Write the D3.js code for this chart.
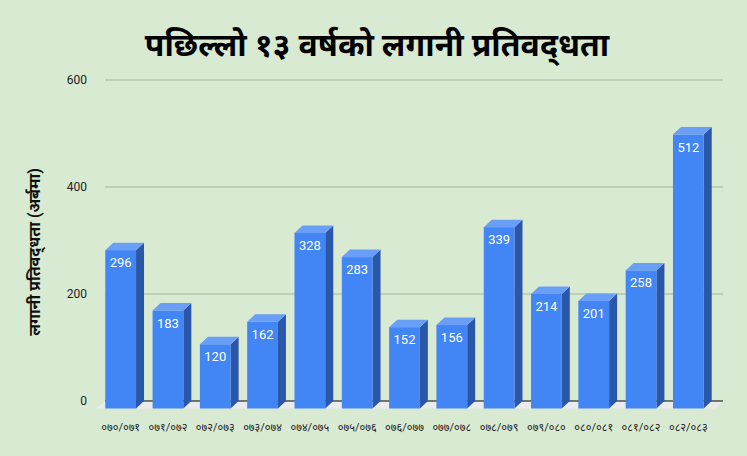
<!DOCTYPE html>
<html>
<head>
<meta charset="utf-8">
<script src="https://cdn.jsdelivr.net/npm/d3@7"></script>
<style>
  body { margin: 0; background: #d9ead3; }
  svg { display: block; }
  text { font-family: Roboto, "Noto Sans", "Noto Sans Devanagari", sans-serif; }
</style>
</head>
<body>
<div id="chart"></div>
<script>
var years = ['०७०/०७१', '०७१/०७२', '०७२/०७३', '०७३/०७४', '०७४/०७५', '०७५/०७६', '०७६/०७७',
             '०७७/०७८', '०७८/०७९', '०७९/०८०', '०८०/०८१', '०८१/०८२', '०८२/०८३'];
var values = [296, 183, 120, 162, 328, 283, 152, 156, 339, 214, 201, 258, 512];
var yTicks = [0, 200, 400, 600];

var W = 747, H = 456,
    dx = 8, dy = 7.5,   // depth offset of the 3d effect
    col = { front: '#4285f4', side: '#2b57a8', top: '#6a9ff7' };

var svg = d3.select('#chart').append('svg')
    .attr('width', W)
    .attr('height', H);

svg.append('rect')
    .attr('width', W).attr('height', H)
    .attr('fill', '#d9ead3');

// scales live on the back plane
var x = d3.scaleBand()
    .domain(years)
    .range([105, 720])
    .paddingInner(0.35)
    .paddingOuter(0.175);

var y = d3.scaleLinear()
    .domain([0, 600])
    .range([401, 80]);

// floor
svg.append('polygon')
    .attr('points', [[105, y(0)], [723, y(0)], [723 - dx, y(0) + dy], [105 - dx, y(0) + dy]].join(' '))
    .attr('fill', '#ebebeb');

// gridlines
svg.selectAll('line.grid')
    .data(yTicks.filter(function(d){ return d > 0; }))
  .enter().append('line')
    .attr('class', 'grid')
    .attr('x1', 105).attr('x2', 723)
    .attr('y1', function(d){ return y(d); })
    .attr('y2', function(d){ return y(d); })
    .attr('stroke', '#a3b39f')
    .attr('stroke-width', 1);

svg.append('line')
    .attr('x1', 105).attr('x2', 723)
    .attr('y1', y(0)).attr('y2', y(0))
    .attr('stroke', '#000')
    .attr('stroke-width', 1.2);

// y tick labels
svg.selectAll('text.ytick')
    .data(yTicks)
  .enter().append('text')
    .attr('class', 'ytick')
    .attr('x', 87)
    .attr('y', function(d){ return y(d); })
    .attr('dy', '0.35em')
    .attr('text-anchor', 'end')
    .attr('font-size', 12)
    .attr('fill', '#222')
    .text(function(d){ return d; });

// bars
var bw = x.bandwidth();
var bar = svg.selectAll('g.bar')
    .data(values.map(function(v, i){ return { year: years[i], value: v }; }))
  .enter().append('g')
    .attr('class', 'bar');

bar.append('polygon')
    .attr('fill', col.side)
    .attr('points', function(d){
        var x0 = x(d.year) + bw, yt = y(d.value), yb = y(0);
        return [[x0 - dx, yt + dy], [x0, yt], [x0, yb], [x0 - dx, yb + dy]].join(' ');
    });

bar.append('polygon')
    .attr('fill', col.top)
    .attr('points', function(d){
        var x0 = x(d.year), yt = y(d.value);
        return [[x0 - dx, yt + dy], [x0 - dx + bw, yt + dy], [x0 + bw, yt], [x0, yt]].join(' ');
    });

bar.append('rect')
    .attr('fill', col.front)
    .attr('x', function(d){ return x(d.year) - dx; })
    .attr('y', function(d){ return y(d.value) + dy; })
    .attr('width', bw)
    .attr('height', function(d){ return y(0) - y(d.value); });

bar.append('text')
    .attr('x', function(d){ return x(d.year) - dx + bw / 2; })
    .attr('y', function(d){ return y(d.value) + dy + 17; })
    .attr('text-anchor', 'middle')
    .attr('font-size', 13)
    .attr('fill', '#fff')
    .text(function(d){ return d.value; });

// x labels
svg.selectAll('text.xlab')
    .data(years)
  .enter().append('text')
    .attr('class', 'xlab')
    .attr('x', function(d){ return x(d) - dx + bw / 2; })
    .attr('y', 431)
    .attr('text-anchor', 'middle')
    .attr('font-size', 11)
    .attr('fill', '#222')
    .text(function(d){ return d; });

// titles (ZWNJ keeps the visible halant in द्‌ध as in the original)
svg.append('text')
    .attr('x', 377)
    .attr('y', 56)
    .attr('text-anchor', 'middle')
    .attr('font-size', 32)
    .attr('font-weight', 'bold')
    .attr('fill', '#000')
    .text('पछिल्लो १३ वर्षको लगानी प्रतिवद्\u200Cधता');

svg.append('text')
    .attr('transform', 'translate(40,252) rotate(-90)')
    .attr('text-anchor', 'middle')
    .attr('font-size', 16)
    .attr('font-weight', 'bold')
    .attr('fill', '#111')
    .text('लगानी प्रतिवद्\u200Cधता (अर्बमा)');
</script>
</body>
</html>
